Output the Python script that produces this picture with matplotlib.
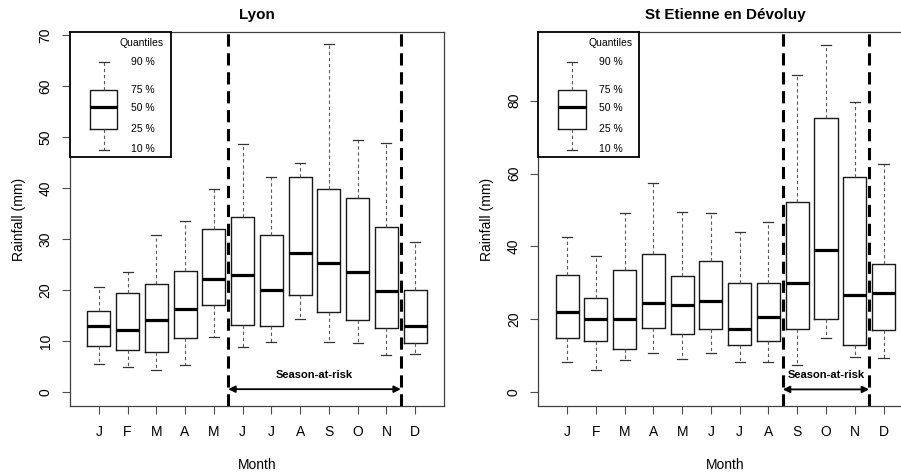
import numpy as np
import matplotlib
matplotlib.use("Agg")
import matplotlib.pyplot as plt

plt.rcParams['font.family'] = ['Liberation Sans', 'DejaVu Sans']

months = ["J", "F", "M", "A", "M", "J", "J", "A", "S", "O", "N", "D"]

# Lyon monthly rainfall quantiles (mm)
lyon_q10 = [5.6, 5.0, 4.3, 5.4, 10.9, 8.9, 9.9, 14.3, 9.9, 9.7, 7.3, 7.5]
lyon_q25 = [9.1, 8.2, 7.8, 10.6, 17.2, 13.1, 12.9, 19.1, 15.7, 14.2, 12.5, 9.7]
lyon_q50 = [12.9, 12.2, 14.2, 16.4, 22.2, 22.9, 20.1, 27.3, 25.4, 23.5, 19.9, 12.9]
lyon_q75 = [15.9, 19.4, 21.2, 23.8, 32.0, 34.3, 30.8, 42.3, 39.9, 38.1, 32.4, 20.1]
lyon_q90 = [20.7, 23.5, 30.8, 33.6, 39.9, 48.6, 42.3, 45.0, 68.2, 49.5, 48.9, 29.5]

# St Etienne en Devoluy monthly rainfall quantiles (mm)
ste_q10 = [8.4, 6.2, 9.0, 10.9, 9.2, 10.9, 8.2, 8.2, 7.5, 14.8, 9.7, 9.4]
ste_q25 = [14.8, 14.0, 11.9, 17.6, 16.0, 17.4, 12.9, 14.0, 17.4, 20.0, 12.9, 17.1]
ste_q50 = [22.1, 20.0, 20.0, 24.5, 24.0, 25.0, 17.4, 20.7, 30.0, 39.0, 26.8, 27.1]
ste_q75 = [32.3, 25.9, 33.6, 38.0, 32.0, 36.0, 29.9, 29.9, 52.2, 75.2, 59.0, 35.1]
ste_q90 = [42.6, 37.4, 49.3, 57.5, 49.5, 49.2, 43.9, 46.7, 87.0, 95.3, 79.6, 62.5]

panels = [
    dict(title="Lyon", q=(lyon_q10, lyon_q25, lyon_q50, lyon_q75, lyon_q90),
         ylim=(-2.7, 70.65), yticks=[0, 10, 20, 30, 40, 50, 60, 70],
         season=(5.5, 11.5), arrow_y=0.6, text_y=3.3, text_x=8.5),
    dict(title="St Etienne en Dévoluy", q=(ste_q10, ste_q25, ste_q50, ste_q75, ste_q90),
         ylim=(-3.75, 98.8), yticks=[0, 20, 40, 60, 80],
         season=(8.5, 11.5), arrow_y=0.8, text_y=4.7, text_x=10.0),
]

W, H = 901, 475
fig = plt.figure(figsize=(W / 100, H / 100), dpi=100)

# axes boxes in pixels (left, top, width, height); right panel runs off the canvas
ax_px = [(70, 32, 374, 374), (538.3, 32, 374, 374)]

whisk = dict(color="0.35", lw=0.8, linestyle=(0, (3, 2.5)))
box = dict(color="0.1", lw=1.0)
med = dict(color="black", lw=2.3, solid_capstyle="butt")
cap = dict(color="0.2", lw=0.9)


def make_stats(q10, q25, q50, q75, q90):
    return [dict(whislo=a, q1=b, med=c, q3=d, whishi=e, fliers=[])
            for a, b, c, d, e in zip(q10, q25, q50, q75, q90)]


for p, (x0, y0, w, h) in zip(panels, ax_px):
    ax = fig.add_axes([x0 / W, (H - y0 - h) / H, w / W, h / H])
    stats = make_stats(*p["q"])
    ax.bxp(stats, positions=np.arange(1, 13), widths=0.8, capwidths=0.35,
           showfliers=False, patch_artist=False,
           boxprops=box, whiskerprops=whisk, medianprops=med, capprops=cap)
    ax.set_xlim(0, 13)
    ax.set_ylim(*p["ylim"])
    ax.set_xticks(np.arange(1, 13))
    ax.set_xticklabels(months, fontsize=10)
    ax.set_yticks(p["yticks"])
    ax.set_yticklabels([str(t) for t in p["yticks"]], rotation=90, va="center", fontsize=10)
    ax.tick_params(direction="out", length=5.5, width=0.8, color="0.3")
    ax.tick_params(axis="x", pad=8)
    ax.tick_params(axis="y", pad=7)
    for s in ax.spines.values():
        s.set_linewidth(0.9)
        s.set_color("0.25")
    ax.set_title(p["title"], fontsize=11, fontweight="bold", pad=9)
    ax.set_xlabel("Month", fontsize=10, labelpad=14)
    ax.set_ylabel("Rainfall (mm)", fontsize=10, labelpad=9)

    # season-at-risk limits
    for xv in p["season"]:
        ax.axvline(xv, color="black", lw=2.2, linestyle=(0, (4, 2.2)), zorder=3)
    ax.annotate("", xy=(p["season"][0], p["arrow_y"]), xytext=(p["season"][1], p["arrow_y"]),
                arrowprops=dict(arrowstyle="<|-|>", color="black", lw=1.3,
                                mutation_scale=10, shrinkA=0, shrinkB=0))
    ax.text(p["text_x"], p["text_y"], "Season-at-risk", ha="center", va="center",
            fontsize=8, fontweight="bold")

    # quantile legend in the top-left corner
    lg = ax.inset_axes([0, 1 - 125 / h, 100.7 / w, 125 / h])
    for s in lg.spines.values():
        s.set_linewidth(1.3)
        s.set_color("black")
    lg.bxp([dict(whislo=117.7, q1=96.7, med=74.7, q3=57.7, whishi=29.7, fliers=[])],
           positions=[33.6], widths=27.3, capwidths=10, showfliers=False,
           boxprops=box, whiskerprops=whisk, medianprops=med, capprops=cap)
    lg.set_xlim(0, 100.7)
    lg.set_ylim(125, 0)
    lg.set_xticks([])
    lg.set_yticks([])
    lg.text(72, 11.5, "Quantiles", ha="center", va="center", fontsize=7.5)
    for yy, lab in zip([29.7, 58, 76.3, 96.7, 116.7], ["90 %", "75 %", "50 %", "25 %", "10 %"]):
        lg.text(72.5, yy, lab, ha="center", va="center", fontsize=7.5)

fig.savefig("out.png", dpi=100)
